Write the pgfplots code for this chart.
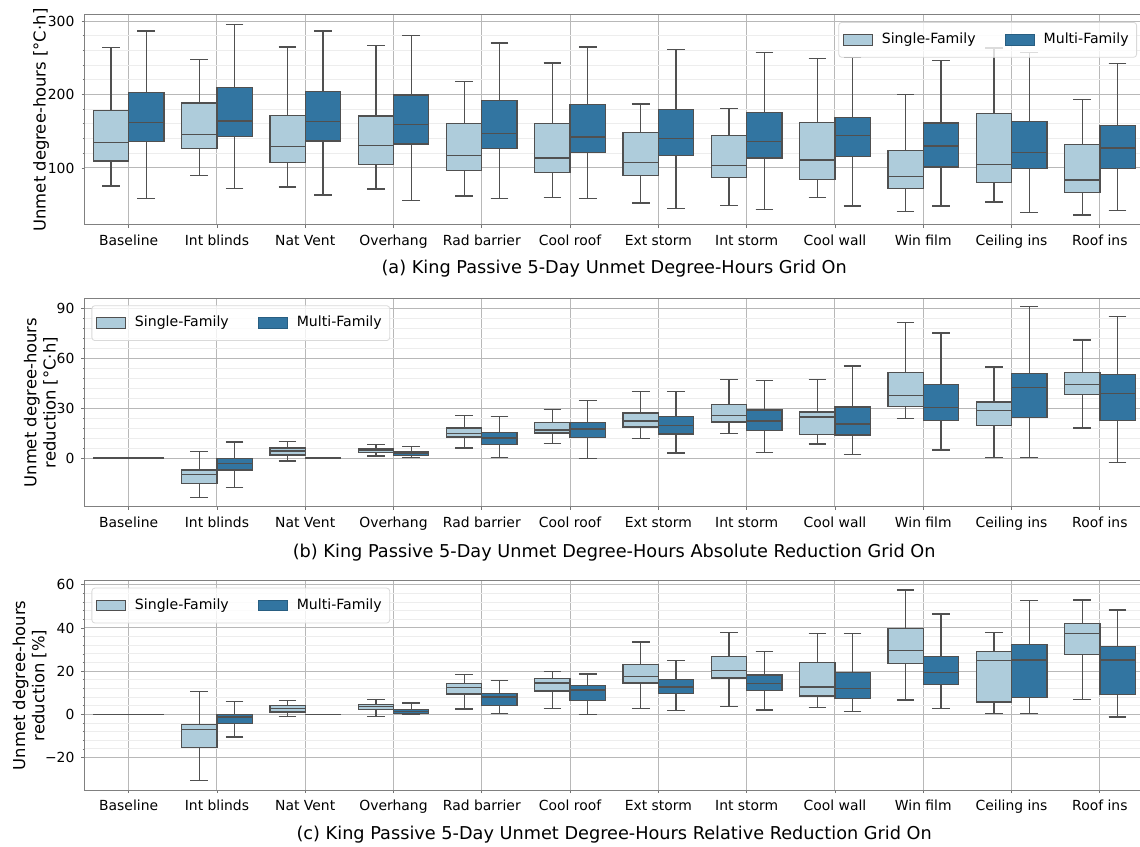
\documentclass[border=0pt]{standalone}
\usepackage{fontspec}
\setmainfont{DejaVu Sans}
\usepackage{pgfplots}
\usepackage{pgfplotstable}
\pgfplotsset{compat=1.18}
\usepgfplotslibrary{statistics}

\definecolor{sfc}{RGB}{174,204,219}
\definecolor{mfc}{RGB}{50,117,161}
\definecolor{edge}{RGB}{80,80,80}

% (a) absolute unmet degree-hours
\pgfplotstableread{
lw lq med uq uw
75.5 109.5 134.5 178.5 263.7
89.6 126.3 145.4 188.4 247.8
74.1 107.3 129.5 171.7 264.6
71.4 105.0 130.8 170.7 266.4
62.0 96.4 116.8 160.3 217.9
60.1 94.1 113.6 160.3 242.9
52.4 90.0 107.7 148.5 187.1
49.2 86.8 103.6 144.4 180.7
59.6 84.6 110.9 161.7 249.2
41.0 72.3 88.7 123.6 199.8
53.7 80.0 105.0 174.0 263.3
36.0 66.9 83.7 132.2 193.0
}\aS
\pgfplotstableread{
lw lq med uq uw
58.7 136.0 162.0 203.0 286.4
72.3 142.6 164.0 209.8 295.5
63.3 136.7 163.0 203.9 286.4
56.0 132.7 159.0 199.3 280.0
58.0 126.3 146.7 192.0 270.0
58.0 121.3 142.2 186.6 264.6
44.7 116.8 140.4 179.8 261.0
43.8 113.6 135.8 175.7 256.9
48.3 115.4 144.4 169.0 250.1
48.3 101.4 130.0 161.2 246.0
39.7 99.1 121.3 163.5 256.9
42.4 99.1 127.2 157.6 242.0
}\aM
% (b) absolute reduction
\pgfplotstableread{
lw lq med uq uw
0 0 0 0 0
-23.5 -15.1 -10.0 -7.2 3.8
-1.8 1.8 4.2 6.0 10.0
1.2 3.4 4.6 5.4 8.0
6.0 12.7 14.7 18.1 25.7
8.8 15.1 16.9 21.5 29.1
11.7 18.7 22.3 27.1 40.0
14.8 21.6 25.6 32.0 47.0
8.4 14.2 24.6 27.6 47.4
23.7 30.9 37.4 51.4 81.4
0.2 19.5 28.7 33.6 54.7
18.1 38.2 44.4 51.4 70.9
}\bS
\pgfplotstableread{
lw lq med uq uw
0 0 0 0 0
-17.5 -7.2 -3.2 -0.4 9.6
0 0 0 0 0
0.2 1.4 3.0 3.8 7.0
0.2 8.0 12.1 15.3 25.1
-0.2 12.3 17.5 21.5 34.6
3.0 14.5 19.7 24.9 40.0
3.4 16.6 22.2 28.8 46.6
2.0 13.8 20.4 30.6 55.4
4.8 22.7 30.3 44.2 75.1
0.2 24.3 42.6 51.0 91.0
-2.6 22.7 38.6 50.0 85.0
}\bM
% (c) relative reduction
\pgfplotstableread{
lw lq med uq uw
0 0 0 0 0
-30.6 -15.3 -6.9 -4.8 10.7
-0.9 1.1 2.8 4.2 6.5
-0.9 2.2 3.6 4.5 6.8
2.5 9.4 12.6 14.4 18.5
2.8 10.9 14.5 16.5 20.0
2.8 14.5 17.6 23.0 33.5
3.6 16.8 20.2 26.7 37.8
3.1 8.5 12.7 24.1 37.4
6.6 23.6 29.7 39.7 57.6
0.3 5.7 24.9 29.0 37.8
6.9 27.8 37.4 42.0 53.0
}\cS
\pgfplotstableread{
lw lq med uq uw
0 0 0 0 0
-10.5 -4.3 -1.2 -0.2 5.9
0 0 0 0 0
0.0 0.5 1.4 2.3 5.3
0.3 4.0 8.0 9.7 15.6
0.0 6.3 11.3 13.4 18.7
1.9 9.7 12.7 16.2 25.0
2.0 11.0 14.4 18.2 29.0
1.4 7.3 11.9 19.5 37.5
2.8 13.7 19.5 26.9 46.5
0.3 7.7 25.2 32.3 52.8
-1.2 9.3 25.2 31.5 48.3
}\cM

\pgfplotsset{
  panel/.style={
    scale only axis, width=529.75pt, height=105pt,
    xmin=-0.5, xmax=11.5,
    xtick={0,...,11},
    xticklabels={Baseline,Int blinds,Nat Vent,Overhang,Rad barrier,Cool roof,Ext storm,Int storm,Cool wall,Win film,Ceiling ins,Roof ins},
    tick pos=left, tick align=outside,
    major tick length=1.5pt, minor tick length=0.9pt,
    every tick/.style={black!55, line width=0.4pt},
    axis line style={black!50, line width=0.5pt},
    xmajorgrids, ymajorgrids, yminorgrids,
    minor y tick num=4,
    major grid style={black!28, line width=0.5pt},
    minor grid style={black!7, line width=0.5pt},
    tick label style={font=\fontsize{6.95}{8}\selectfont},
    /pgf/number format/assume math mode=true,
    boxplot/draw direction=y,
    legend columns=2,
    legend cell align=left,
    legend style={draw=black!15, fill=white, fill opacity=0.8, draw opacity=1, text opacity=1,
      rounded corners=1.5pt, font=\fontsize{7.05}{8}\selectfont,
      inner xsep=2pt, inner ysep=3.3pt,
      /tikz/every even column/.append style={column sep=12.5pt}},
    legend image code/.code={\draw[sharp corners,fill opacity=1,##1] (0pt,-2.67pt) rectangle (14.5pt,2.67pt);
      \path[draw=none,fill=none] (0pt,0pt) rectangle (17.3pt,0pt);},
  },
  bxS/.style={forget plot, fill=sfc, draw=edge, line width=0.65pt,
    boxplot/box extend=0.4, boxplot/whisker extend=0.2},
  bxM/.style={forget plot, fill=mfc, draw=edge, line width=0.65pt,
    boxplot/box extend=0.4, boxplot/whisker extend=0.2},
}

% one box from row #2 of table #1, style #3, position #4
\newcommand{\onebox}[4]{%
  \pgfplotstablegetelem{#2}{lw}\of#1\let\vlw\pgfplotsretval
  \pgfplotstablegetelem{#2}{lq}\of#1\let\vlq\pgfplotsretval
  \pgfplotstablegetelem{#2}{med}\of#1\let\vmed\pgfplotsretval
  \pgfplotstablegetelem{#2}{uq}\of#1\let\vuq\pgfplotsretval
  \pgfplotstablegetelem{#2}{uw}\of#1\let\vuw\pgfplotsretval
  \edef\tmpplot{\noexpand\addplot[#3, boxplot prepared={draw position=#4,
     lower whisker=\vlw, lower quartile=\vlq, median=\vmed,
     upper quartile=\vuq, upper whisker=\vuw}] coordinates {};}%
  \tmpplot
}
\newcommand{\boxes}[2]{%
  \pgfplotsinvokeforeach{0,...,11}{%
    \onebox{#1}{##1}{bxS}{##1-0.2}
    \onebox{#2}{##1}{bxM}{##1+0.2}
  }%
  \addlegendimage{fill=sfc, draw=edge, line width=0.45pt}
  \addlegendentry{Single-Family}
  \addlegendimage{fill=mfc, draw=mfc!80!black, line width=0.45pt}
  \addlegendentry{Multi-Family}
}

\begin{document}
\begin{tikzpicture}
\begin{axis}[panel, at={(42.25pt,310.5pt)}, anchor=south west,
  ymin=22.4, ymax=308.2, ytick={100,200,300},
  legend style={at={(1,1)}, anchor=north east, xshift=-3.5pt, yshift=-3.5pt}]
\boxes{\aS}{\aM}
\end{axis}
\begin{axis}[panel, at={(42.25pt,169.5pt)}, anchor=south west, height=104.35pt,
  ymin=-29.4, ymax=96, ytick={0,30,60,90},
  legend style={at={(0,1)}, anchor=north west, xshift=3.5pt, yshift=-3.5pt}]
\boxes{\bS}{\bM}
\end{axis}
\begin{axis}[panel, at={(42.25pt,28pt)}, anchor=south west, height=104.65pt,
  ymin=-35, ymax=61.9, ytick={-20,0,20,40,60}, yticklabels={−20,0,20,40,60},
  legend style={at={(0,1)}, anchor=north west, xshift=3.5pt, yshift=-3.5pt}]
\boxes{\cS}{\cM}
\end{axis}

\node[rotate=90, font=\fontsize{8.2}{9.6}\selectfont] at (20.5pt,363pt) {Unmet degree-hours [°C·h]};
\node[rotate=90, align=center, font=\fontsize{8.2}{9.6}\selectfont] at (20.4pt,221.7pt) {Unmet degree-hours\\reduction [°C·h]};
\node[rotate=90, align=center, font=\fontsize{8.2}{9.6}\selectfont] at (14.8pt,80.3pt) {Unmet degree-hours\\reduction [\%]};

\node[font=\fontsize{8.85}{10}\selectfont] at (307.1pt,288.6pt) {(a) King Passive 5-Day Unmet Degree-Hours Grid On};
\node[font=\fontsize{8.85}{10}\selectfont] at (307.1pt,146.7pt) {(b) King Passive 5-Day Unmet Degree-Hours Absolute Reduction Grid On};
\node[font=\fontsize{8.85}{10}\selectfont] at (307.1pt,5.5pt) {(c) King Passive 5-Day Unmet Degree-Hours Relative Reduction Grid On};

\pgfresetboundingbox
\path[use as bounding box] (0,0) rectangle (570pt,423pt);
\end{tikzpicture}
\end{document}
